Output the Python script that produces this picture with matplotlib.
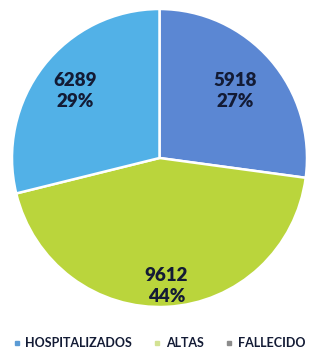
import numpy as np
import matplotlib
matplotlib.use('Agg')
import matplotlib.pyplot as plt
from matplotlib.lines import Line2D

categories = ['HOSPITALIZADOS', 'ALTAS', 'FALLECIDO']
values = [5918, 9612, 6289]
percent_labels = ['27%', '44%', '29%']
slice_colors = ['#5b87d3', '#bad53c', '#52b1e7']
legend_colors = ['#5b9bd5', '#d3e293', '#8c8c8c']
label_radius = [0.68, 0.86, 0.73]

plt.rcParams['font.family'] = ['Lato', 'DejaVu Sans']
text_color = '#131b35'

fig = plt.figure(figsize=(3.17, 3.51), dpi=100)
W, H = 317, 351
# pie area in pixels: left, top, size
px_l, px_t, px_w, px_h = 12, 9, 295, 298
ax = fig.add_axes([px_l / W, 1 - (px_t + px_h) / H, px_w / W, px_h / H])

wedges, _ = ax.pie(values, colors=slice_colors, startangle=90, counterclock=False,
                   wedgeprops=dict(edgecolor='white', linewidth=1.8))
ax.set_xlim(-1, 1)
ax.set_ylim(-1, 1)
ax.set_aspect('auto')
ax.axis('off')

for w, v, p, r in zip(wedges, values, percent_labels, label_radius):
    ang = np.deg2rad((w.theta1 + w.theta2) / 2)
    ax.text(r * np.cos(ang), r * np.sin(ang), f'{v}\n{p}', ha='center', va='center',
            fontsize=13.5, fontweight='heavy', color=text_color, linespacing=1.3)

handles = [Line2D([], [], marker='s', linestyle='none', markersize=3.5,
                  markerfacecolor=c, markeredgecolor=c) for c in legend_colors]
fig.legend(handles, categories, loc='center', bbox_to_anchor=(0.5, 1 - 343 / H),
           ncol=3, frameon=False, handletextpad=0.3, columnspacing=1.6,
           handlelength=0.8, borderpad=0,
           prop=dict(size=9, weight='bold'), labelcolor=text_color)

fig.savefig('out.png', dpi=100, facecolor='white')
